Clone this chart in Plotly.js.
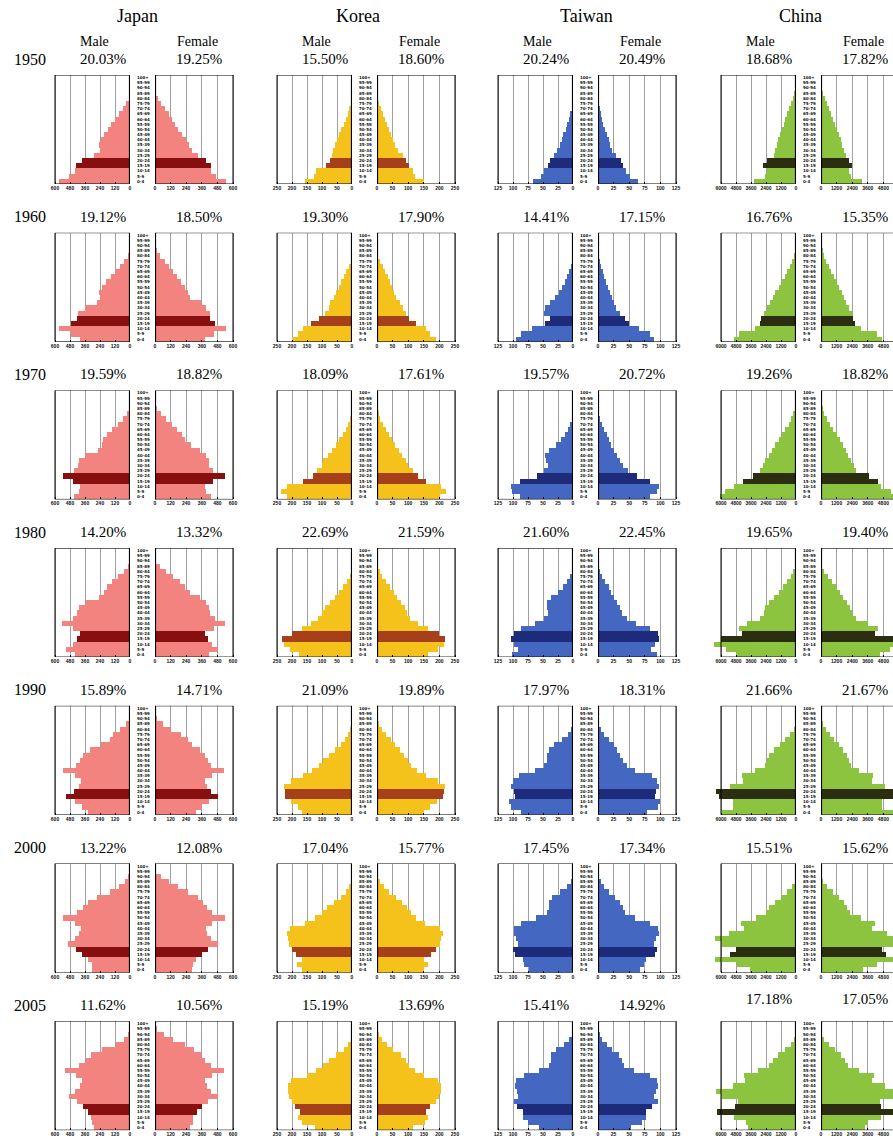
<!DOCTYPE html>
<html><head><meta charset="utf-8">
<script src="https://cdn.plot.ly/plotly-3.0.1.min.js"></script>
<style>html,body{margin:0;padding:0;overflow:hidden;background:#fff}#chart{width:910px;height:1160px}</style>
</head><body><div id="chart"></div><script>
const countries = ['Japan','Korea','Taiwan','China'];
const years = ['1950','1960','1970','1980','1990','2000','2005'];
const ageGroups = ['0-4','5-9','10-14','15-19','20-24','25-29','30-34','35-39','40-44','45-49','50-54','55-59','60-64','65-69','70-74','75-79','80-84','85-89','90-94','95-99','100+'];
const youthGroups = ['15-19','20-24'];
// axis maximum per country (10,000 persons per 5-year group)
const axisMax = [600, 250, 125, 6000];
const tickText = [
  ['0','120','240','360','480','600'],
  ['0','50','100','150','200','250'],
  ['0','25','50','75','100','125'],
  ['0','1200','2400','3600','4800','6000']
];
const lightColors = ['#F3837F','#F5C21C','#4468C1','#8CC43F'];
const darkColors  = ['#880F10','#A6401A','#1E2A7A','#2B2E10'];

// population by 5-year age group (0-4 ... 100+), units of 10,000; one row per year
const japanMale = [
 [572,485,440,432,383,290,243,247,235,207,179,150,123,92,60,32,11.5,3,0.5,0.1,0],
 [401,469,565,472,424,413,360,264,241,245,225,192,154,120,84,49,20,5,0.8,0.1,0],
 [451,411,403,458,539,451,417,410,358,260,228,218,184,143,97,56,24,7.5,1.4,0.2,0],
 [437,513,460,422,399,456,541,459,421,410,351,248,207,186,145,93,48,17,4,0.5,0],
 [333,382,437,513,446,407,392,441,534,431,399,379,324,229,164,133,78,30,7.5,1.2,0.1],
 [303,308,336,385,431,496,442,406,393,441,533,426,374,338,266,162,85,43,13,2.5,0.2],
 [286,304,309,337,376,421,492,440,403,388,432,517,410,353,309,223,114,48,17,3.5,0.4]
];
const japanFemale = [
 [549,469,431,427,394,330,281,260,236,205,177,154,134,107,77,48,21,7,1.5,0.2,0],
 [383,451,546,459,425,420,396,351,271,251,228,197,168,140,109,76,36,12,2.4,0.3,0],
 [429,393,388,445,535,449,416,415,394,349,274,233,206,172,129,86,44,16.5,3.6,0.5,0],
 [415,488,439,405,388,450,536,458,422,417,392,345,272,230,190,139,82,36,10,1.5,0.1],
 [317,364,416,487,434,400,387,439,532,432,405,387,345,287,253,199,125,58,18.5,3.8,0.3],
 [287,292,319,364,411,483,433,399,389,439,537,441,399,373,327,253,175,106,43,10.5,1.1],
 [272,289,293,320,359,407,483,434,400,387,435,529,434,385,355,303,228,135,66,18.5,2.1]
];
const koreaMale = [
 [158,127,119,88,72,68,64,57,50,43,36,28,21,14,8.5,4,1.4,0.3,0,0,0],
 [200,179,164,137,110,90,78,72,60,53,44,36,28,19,11,5,1.8,0.4,0,0,0],
 [217,238,218,164,130,117,101,96,80,66,53,42,31,21,12,6,2,0.5,0,0,0],
 [176,206,226,232,200,168,138,113,100,90,73,56,42,29,17,8,3,0.7,0.1,0,0],
 [168,181,204,224,224,227,203,163,132,111,96,78,56,38,25,13,5.5,1.5,0.3,0,0],
 [167,182,166,187,200,210,213,218,208,156,124,101,83,60,37,19,9,2.5,0.5,0.1,0],
 [125,167,179,174,190,200,209,214,214,203,150,119,96,77,52,28,13,4,1,0.2,0]
];
const koreaFemale = [
 [152,123,116,102,93,82,68,59,51,45,39,32,26,20,13.5,7,3.1,0.9,0.2,0,0],
 [190,170,156,125,102,93,82,74,62,56,49,42,35,27,18,10,4.5,1.2,0.2,0,0],
 [203,222,204,156,130,115,100,94,80,69,57,48,39,29,19,11,5,1.5,0.3,0,0],
 [164,194,214,218,198,162,132,107,95,90,77,64,53,41,28,17,8,2.5,0.5,0.1,0],
 [152,169,191,211,216,218,197,157,128,109,99,87,74,57,45,29,15,5,1.2,0.2,0],
 [151,164,151,173,188,201,206,211,201,153,124,108,96,80,62,40,23,9,2.5,0.5,0.1],
 [115,153,164,156,170,190,200,206,206,197,150,122,104,93,78,52,32,15,5,1,0.1]
];
const taiwanMale = [
 [67,54,48,42,39,32,26,22,19,16,12.5,9.5,6.5,4.3,2.3,1,0.4,0.1,0,0,0],
 [95,87,69,47,38,48,47,38,30,24,19,14,10,6.5,3.5,1.5,0.5,0.1,0,0,0],
 [88,101,104,88,60,48,42,45,46,40,29,20,14,9,5,2.5,1,0.3,0,0,0],
 [101,91,98,103,99,87,64,49,42,43,43,36,25,16,10,5,2,0.5,0.1,0,0],
 [86,104,106,97,98,104,100,90,63,49,43,43,40,31,18,9,4,1.2,0.3,0,0],
 [74,81,83,97,100,92,95,99,99,86,61,44,40,40,35,22,10,4,1,0.2,0],
 [57,75,83,83,93,99,91,94,97,95,82,57,40,37,37,28,15,6,2,0.4,0]
];
const taiwanFemale = [
 [64,51,45,40,37,29,23,20,17,14,11,8.5,6.5,4.5,2.7,1.3,0.5,0.15,0,0,0],
 [90,83,66,49,43,35,29,25,22,19,16,13,10,7.5,4.5,2.5,1,0.3,0,0,0],
 [83,95,98,84,63,48,40,36,31,26,21,17,14,10,6.5,3.5,1.5,0.5,0.1,0,0],
 [95,85,92,97,96,83,61,46,39,36,31,26,21,17,12,7,3.5,1,0.2,0,0],
 [79,96,100,92,93,98,95,86,59,46,40,36,31,25,17,10,5,1.8,0.5,0.1,0],
 [68,74,77,91,95,89,93,97,96,84,60,44,40,36,27,17,10,4.5,1.5,0.3,0],
 [53,70,77,77,87,96,89,93,96,95,83,58,42,38,33,22,14,7,2.5,0.6,0.1]
];
const chinaMale = [
 [3400,2500,2350,2650,2350,1800,1680,1550,1420,1280,1140,1000,850,700,560,420,280,160,70,15,2],
 [5000,4600,3300,2900,2800,2600,2300,2050,1850,1650,1400,1150,920,700,500,330,200,110,45,12,1],
 [6100,5700,5000,4250,3450,2850,2650,2450,2200,1950,1700,1400,1120,850,600,380,210,100,35,8,1],
 [4800,5600,6600,6000,4300,4600,3900,2900,2600,2450,2150,1750,1400,1050,720,430,210,80,25,5,0],
 [6000,5050,5030,6190,6380,5250,4230,4360,3260,2500,2330,2170,1780,1310,870,470,190,55,11,2,0],
 [3670,4730,6500,5300,4790,5960,6500,5340,4180,4380,3220,2380,2140,1690,1200,690,300,100,25,5,1],
 [3850,4000,5000,6300,4850,4650,5950,6400,5050,4050,4150,3050,2200,1850,1450,900,400,140,35,6,1]
];
const chinaFemale = [
 [3150,2300,2150,2350,2150,1950,1800,1650,1500,1350,1200,1050,900,750,600,450,300,180,80,20,2],
 [4700,4300,3100,2650,2450,2350,2150,1950,1780,1600,1400,1200,1000,800,600,420,260,140,55,15,2],
 [5700,5350,4650,4400,3700,2700,2500,2300,2100,1900,1700,1480,1230,960,700,460,260,120,40,10,1],
 [4550,5300,6300,5750,4150,4400,3650,2700,2400,2250,2000,1700,1450,1150,820,520,260,110,30,6,0],
 [5620,4670,4700,5880,6110,4910,3930,3980,2920,2270,2120,1980,1690,1380,1020,660,350,125,30,5,1],
 [3210,4290,6040,5000,4670,5800,6220,5100,3930,4160,3080,2260,2030,1740,1360,900,470,190,55,10,1],
 [3350,3600,4600,5900,4650,4550,5750,6200,4950,3950,4050,2950,2100,1850,1550,1100,600,250,70,15,2]
];
// share of population aged 15-24 (%)
const pctMaleJapan   = [20.03,19.12,19.59,14.20,15.89,13.22,11.62];
const pctFemaleJapan = [19.25,18.50,18.82,13.32,14.71,12.08,10.56];
const pctMaleKorea   = [15.50,19.30,18.09,22.69,21.09,17.04,15.19];
const pctFemaleKorea = [18.60,17.90,17.61,21.59,19.89,15.77,13.69];
const pctMaleTaiwan  = [20.24,14.41,19.57,21.60,17.97,17.45,15.41];
const pctFemaleTaiwan= [20.49,17.15,20.72,22.45,18.31,17.34,14.92];
const pctMaleChina   = [18.68,16.76,19.26,19.65,21.66,15.51,17.18];
const pctFemaleChina = [17.82,15.35,18.82,19.40,21.67,15.62,17.05];

const maleData = [japanMale, koreaMale, taiwanMale, chinaMale];
const femaleData = [japanFemale, koreaFemale, taiwanFemale, chinaFemale];
const pctMale = [pctMaleJapan, pctMaleKorea, pctMaleTaiwan, pctMaleChina];
const pctFemale = [pctFemaleJapan, pctFemaleKorea, pctFemaleTaiwan, pctFemaleChina];

// ---- layout geometry (pixels) ----
const W = 910, H = 1160;
const colX = [55, 277, 498, 721];
const MW = 75, FOFF = 100, FW = 78, BH = 109, EXT = 0.12;
const rowTop = r => 75 + 157.7 * r;
const titleX = [137, 358, 586, 800];
const serif = 'Liberation Serif';

const traces = [], shapes = [], annotations = [];
const layout = {
  width: W, height: H, margin: {l:0,r:0,t:0,b:0},
  paper_bgcolor: '#fff', plot_bgcolor: 'rgba(0,0,0,0)',
  showlegend: false, bargap: 0, dragmode: false,
  font: {family: serif, color: '#000'}
};
const yIdx = ageGroups.map((a, i) => i);

function addSide(k, c, r, values, isMale) {
  const xs = 'x' + (k === 1 ? '' : k), ys = 'y' + (k === 1 ? '' : k);
  const max = axisMax[c];
  const top = rowTop(r), bot = top + BH;
  const x0 = isMale ? colX[c] - EXT * MW : colX[c] + FOFF;
  const x1 = isMale ? colX[c] + MW : colX[c] + FOFF + FW * (1 + EXT);
  const tv = [0,1,2,3,4,5].map(i => i * max / 5);
  layout['xaxis' + (k === 1 ? '' : k)] = {
    domain: [x0 / W, x1 / W], anchor: ys,
    range: isMale ? [max * (1 + EXT), 0] : [0, max * (1 + EXT)],
    tickvals: tv, ticktext: tickText[c],
    showgrid: true, gridcolor: '#a0a0a0', gridwidth: 1,
    zeroline: false, showline: false,
    ticks: 'inside', ticklen: 2, tickcolor: '#000', tickwidth: 1,
    tickfont: {size: 5, family: 'Liberation Sans', color: '#111', weight: 'bold'},
    fixedrange: true
  };
  const ya = {
    domain: [1 - bot / H, 1 - top / H], anchor: xs,
    range: [-0.5, ageGroups.length - 0.5],
    showgrid: false, zeroline: false, showline: false, fixedrange: true, ticks: ''
  };
  if (isMale) {
    Object.assign(ya, {side: 'right', tickvals: yIdx, ticktext: ageGroups, showticklabels: true,
      ticklabelstandoff: 6,
      tickfont: {size: 4, family: 'DejaVu Sans', color: '#111', weight: 'bold'}});
  } else {
    ya.showticklabels = false;
  }
  layout['yaxis' + (k === 1 ? '' : k)] = ya;

  traces.push({
    type: 'bar', orientation: 'h', xaxis: xs, yaxis: ys,
    x: values, y: yIdx, width: 1,
    marker: {color: ageGroups.map(a => youthGroups.includes(a) ? darkColors[c] : lightColors[c]), line: {width: 0}},
    hoverinfo: 'skip'
  });
  shapes.push({type: 'rect', xref: xs, yref: ys, x0: 0, x1: max, y0: -0.5, y1: ageGroups.length - 0.5,
    line: {color: '#000', width: 1}, layer: 'above'});
  shapes.push({type: 'line', xref: xs, yref: ys, x0: 0, x1: 0, y0: -0.5, y1: ageGroups.length - 0.5,
    line: {color: '#000', width: 2.2}, layer: 'above'});
}

function ann(text, xpx, ypx, size) {
  annotations.push({text: text, x: xpx / W, y: 1 - ypx / H, xref: 'paper', yref: 'paper',
    xanchor: 'center', yanchor: 'middle', showarrow: false,
    font: {family: serif, size: size, color: '#000'}});
}

for (let c = 0; c < countries.length; c++) {
  ann(countries[c], titleX[c], 16, 18);
  ann('Male', colX[c] + 39, 41, 14);
  ann('Female', colX[c] + 142, 41, 14);
  for (let r = 0; r < years.length; r++) {
    const p = c * years.length + r;
    addSide(2 * p + 1, c, r, maleData[c][r], true);
    addSide(2 * p + 2, c, r, femaleData[c][r], false);
    const ty = 59 + 157.7 * r - (c === 3 && r === 6 ? 6 : 0);
    ann(pctMale[c][r].toFixed(2) + '%', colX[c] + 48, ty, 15);
    ann(pctFemale[c][r].toFixed(2) + '%', colX[c] + 144, ty, 15);
  }
}
for (let r = 0; r < years.length; r++) ann(years[r], 30, 59 + 157.7 * r, 16);

layout.shapes = shapes;
layout.annotations = annotations;
Plotly.newPlot('chart', traces, layout, {staticPlot: true, displayModeBar: false});
</script></body></html>
